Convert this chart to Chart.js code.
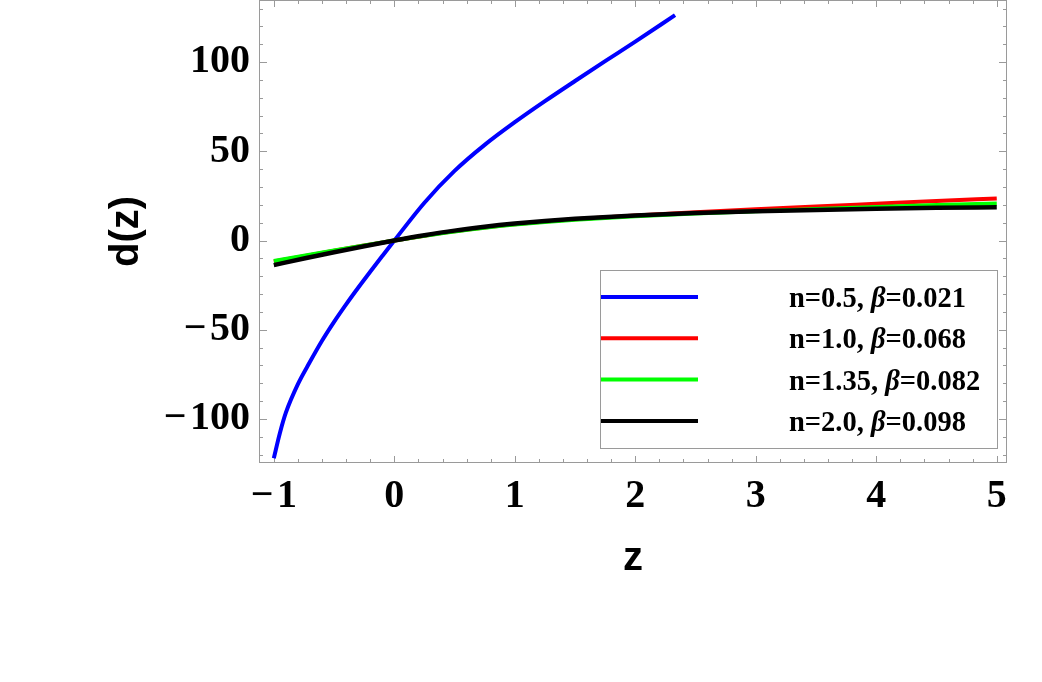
<!DOCTYPE html>
<html>
<head>
<meta charset="utf-8">
<script src="https://cdn.jsdelivr.net/npm/chart.js@4.4.0/dist/chart.umd.min.js"></script>
<style>
  html, body { margin: 0; padding: 0; background: #fff; }
  canvas { display: block; }
</style>
</head>
<body>
<canvas id="dChart" width="1042" height="682"></canvas>
<script>
// values
var zBlue = [-1, -0.95, -0.9, -0.8, -0.7, -0.6, -0.5, -0.4, -0.3, -0.2, -0.1, 0, 0.25, 0.5, 0.75, 1, 1.25, 1.5, 1.75, 2, 2.33];
var dBlue = [-122, -108, -96.5, -80.5, -68, -56.2, -45.6, -35.8, -26.5, -17.5, -8.7, 0, 21.2, 39, 53.6, 66.3, 78.1, 89.4, 100.5, 111.5, 126.3];

var zLow = [-1, -0.75, -0.5, -0.25, 0, 0.25, 0.5, 0.75, 1, 1.25, 1.5, 2, 2.5, 3, 3.5, 4, 4.5, 5];
var dRed   = [-11.8, -8.75, -5.75, -2.85, 0, 2.7, 5.2, 7.35, 9.1, 10.6, 11.85, 13.95, 15.8, 17.5, 19.1, 20.6, 22.1, 23.55];
var dGreen = [-11.5, -8.5, -5.6, -2.75, 0, 2.65, 5.1, 7.2, 8.95, 10.4, 11.6, 13.55, 15.1, 16.45, 17.65, 18.8, 19.85, 20.8];
var dBlack = [-13.8, -10.1, -6.55, -3.2, 0, 2.95, 5.55, 7.7, 9.5, 11.0, 12.2, 14.05, 15.35, 16.35, 17.15, 17.8, 18.3, 18.7];

var nLabels = ['n=0.5', 'n=1.0', 'n=1.35', 'n=2.0'];
var betaLabels = ['0.021', '0.068', '0.082', '0.098'];
var lineColors = ['#0000ff', '#ff0000', '#00ff00', '#000000'];

var xTicks = [-1, 0, 1, 2, 3, 4, 5];
var yTicks = [-100, -50, 0, 50, 100];

function pts(xs, ys) {
    return xs.map(function (x, i) { return {x: x, y: ys[i]}; });
}
function minusLabel(v) {
    return v < 0 ? '\u2212\u200a' + Math.abs(v) : String(v);
}
function noPad(s) {
    s.paddingTop = 0; s.paddingBottom = 0; s.paddingLeft = 0; s.paddingRight = 0;
}

var serifBold = {family: 'Liberation Serif', weight: 'bold', size: 40};
var sansBold = {family: 'Liberation Sans', weight: 'bold', size: 40};
var frameGray = '#9a9a9a';

// frame with minor/major ticks on all four sides, like the Mathematica frame
var frameTicks = {
    id: 'frameTicks',
    beforeDatasetsDraw: function (chart) {
        var ctx = chart.ctx, a = chart.chartArea, x = chart.scales.x, y = chart.scales.y;
        ctx.save();
        ctx.strokeStyle = frameGray;
        ctx.lineWidth = 1;
        ctx.strokeRect(a.left + 0.5, a.top + 0.5, a.right - a.left - 1, a.bottom - a.top - 1);
        ctx.beginPath();
        for (var i = Math.ceil(x.min * 5); i <= Math.floor(x.max * 5); i++) {
            var px = Math.round(x.getPixelForValue(i / 5)) + 0.5;
            var len = (i % 5 === 0) ? 7 : 4;
            ctx.moveTo(px, a.bottom); ctx.lineTo(px, a.bottom - len);
            ctx.moveTo(px, a.top); ctx.lineTo(px, a.top + len);
        }
        for (var j = Math.ceil(y.min / 10); j <= Math.floor(y.max / 10); j++) {
            var py = Math.round(y.getPixelForValue(j * 10)) + 0.5;
            var l2 = (j % 5 === 0) ? 8 : 4;
            ctx.moveTo(a.left, py); ctx.lineTo(a.left + l2, py);
            ctx.moveTo(a.right, py); ctx.lineTo(a.right - l2, py);
        }
        ctx.stroke();
        ctx.restore();
    }
};

// boxed legend inside the plot, beta in italic
var boxLegend = {
    id: 'boxLegend',
    afterDraw: function (chart) {
        var ctx = chart.ctx, a = chart.chartArea;
        var bx = a.left + 341, by = a.top + 270, bw = 397, bh = 178;
        ctx.save();
        ctx.fillStyle = '#fff';
        ctx.fillRect(bx, by, bw, bh);
        ctx.strokeStyle = frameGray;
        ctx.lineWidth = 1;
        ctx.strokeRect(bx + 0.5, by + 0.5, bw, bh);
        for (var i = 0; i < nLabels.length; i++) {
            var ly = by + 27 + i * 41.3;
            ctx.strokeStyle = lineColors[i];
            ctx.lineWidth = 4;
            ctx.beginPath();
            ctx.moveTo(bx + 1, ly); ctx.lineTo(bx + 98, ly);
            ctx.stroke();
            var tx = bx + 189, ty = ly + 10;
            ctx.fillStyle = '#000';
            ctx.textBaseline = 'alphabetic';
            ctx.font = 'bold 28.5px "Liberation Serif"';
            var s1 = nLabels[i] + ', ';
            ctx.fillText(s1, tx, ty);
            tx += ctx.measureText(s1).width;
            ctx.font = 'italic bold 28.5px "Liberation Serif"';
            ctx.fillText('\u03b2', tx, ty);
            tx += ctx.measureText('\u03b2').width;
            ctx.font = 'bold 28.5px "Liberation Serif"';
            ctx.fillText('=' + betaLabels[i], tx, ty);
        }
        ctx.restore();
    }
};

var ctx = document.getElementById('dChart').getContext('2d');
var dChart = new Chart(ctx, {
    type: 'scatter',
    data: {
        datasets: [
            {label: nLabels[0], data: pts(zBlue, dBlue), borderColor: lineColors[0], order: 4},
            {label: nLabels[1], data: pts(zLow, dRed), borderColor: lineColors[1], order: 3},
            {label: nLabels[2], data: pts(zLow, dGreen), borderColor: lineColors[2], order: 2},
            {label: nLabels[3], data: pts(zLow, dBlack), borderColor: lineColors[3], borderWidth: 4.5, order: 1}
        ]
    },
    options: {
        responsive: false,
        animation: false,
        showLine: true,
        elements: {
            point: {radius: 0, hoverRadius: 0},
            line: {borderWidth: 4, cubicInterpolationMode: 'monotone', fill: false}
        },
        layout: {padding: {left: 103, right: 35, top: 0, bottom: 99}},
        plugins: {legend: {display: false}, tooltip: {enabled: false}},
        scales: {
            x: {
                type: 'linear',
                min: -1.123,
                max: 5.085,
                afterBuildTicks: function (s) { s.ticks = xTicks.map(function (v) { return {value: v}; }); },
                afterFit: function (s) { s.height = 120; noPad(s); },
                ticks: {font: serifBold, color: '#000', padding: 10, maxRotation: 0, callback: minusLabel},
                grid: {display: false, drawTicks: false},
                border: {display: false},
                title: {display: true, text: 'z', font: sansBold, color: '#000', padding: {top: 14, bottom: 0}}
            },
            y: {
                type: 'linear',
                min: -124.7,
                max: 134.8,
                afterBuildTicks: function (s) { s.ticks = yTicks.map(function (v) { return {value: v}; }); },
                afterFit: function (s) { s.width = 156; noPad(s); },
                ticks: {font: serifBold, color: '#000', padding: 9, callback: minusLabel},
                grid: {display: false, drawTicks: false},
                border: {display: false},
                title: {display: true, text: 'd(z)', font: sansBold, color: '#000', padding: {top: 0, bottom: 16}}
            }
        }
    },
    plugins: [frameTicks, boxLegend]
});
</script>
</body>
</html>
